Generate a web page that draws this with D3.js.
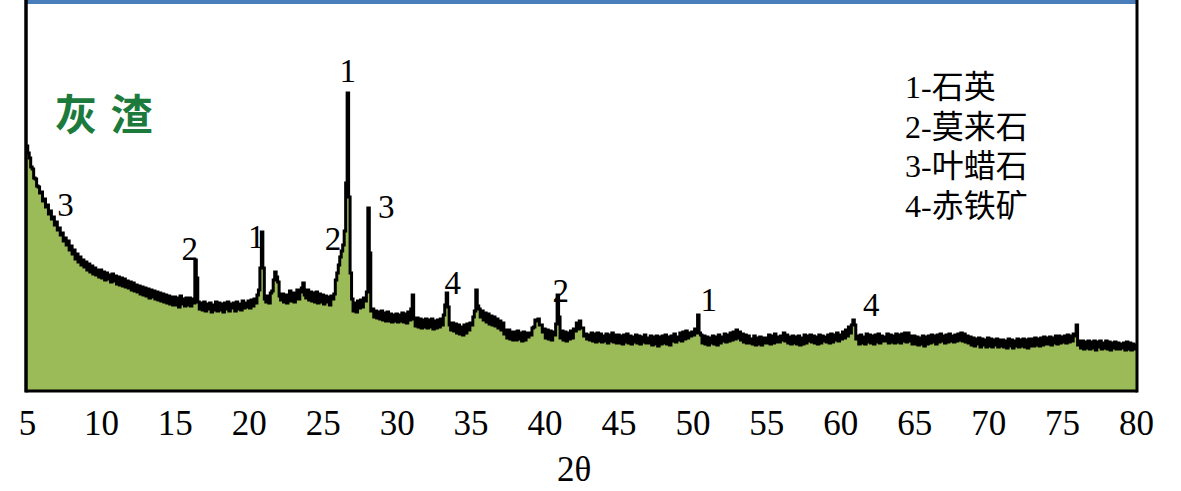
<!DOCTYPE html>
<html>
<head>
<meta charset="utf-8">
<script src="https://cdn.jsdelivr.net/npm/d3@7"></script>
<style>
  body { margin: 0; background: #fff; }
  svg { display: block; }
</style>
</head>
<body>
<svg id="chart" width="1181" height="491"></svg>
<script>
// XRD pattern of the ash slag (0.1 deg steps from 5 to 80)
const startAngle = 5;
const stepAngle = 0.1;
const intensity = [
  245, 238, 233, 224, 222, 213, 212, 205, 204, 198,
  199, 190, 192, 184, 186, 177, 180, 172, 174, 166,
  169, 161, 163, 156, 158, 150, 153, 146, 150, 141,
  145, 137, 141, 132, 137, 129, 134, 126, 131, 124,
  129, 121, 127, 119, 125, 117, 123, 116, 121, 114,
  121, 113, 119, 111, 118, 112, 116, 109, 117, 110,
  115, 107, 114, 106, 113, 105, 112, 104, 110, 103,
  109, 101, 108, 100, 106, 99, 105, 97, 104, 96,
  103, 95, 102, 93, 101, 94, 100, 92, 99, 91,
  98, 90, 97, 89, 96, 88, 95, 87, 94, 86,
  94, 86, 93, 84, 95, 87, 92, 85, 93, 86,
  93, 85, 92, 88, 131, 113, 89, 82, 88, 81,
  89, 80, 87, 82, 88, 79, 86, 81, 89, 80,
  88, 81, 87, 79, 88, 82, 89, 80, 87, 83,
  88, 80, 89, 82, 87, 81, 90, 83, 88, 84,
  90, 83, 91, 85, 92, 88, 96, 101, 123, 159,
  123, 92, 89, 95, 88, 98, 100, 111, 119, 114,
  109, 95, 91, 97, 89, 96, 88, 95, 100, 90,
  98, 89, 97, 101, 92, 99, 103, 108, 96, 93,
  101, 91, 99, 90, 98, 89, 99, 88, 97, 89,
  96, 87, 95, 89, 94, 86, 95, 92, 97, 111,
  118, 126, 134, 140, 146, 160, 208, 298, 194, 118,
  92, 80, 88, 79, 90, 83, 91, 84, 93, 90,
  99, 183, 138, 80, 82, 74, 80, 73, 79, 72,
  80, 71, 78, 70, 79, 70, 77, 69, 76, 70,
  77, 69, 76, 70, 78, 69, 77, 68, 79, 71,
  82, 96, 72, 65, 73, 64, 72, 63, 71, 64,
  72, 63, 71, 64, 72, 62, 70, 63, 71, 64,
  72, 66, 76, 86, 98, 84, 66, 61, 68, 60,
  67, 58, 66, 57, 64, 56, 66, 58, 67, 61,
  68, 66, 74, 80, 101, 85, 82, 74, 80, 71,
  78, 69, 77, 67, 75, 66, 74, 65, 72, 63,
  70, 61, 68, 57, 61, 53, 61, 52, 59, 51,
  59, 51, 60, 52, 58, 50, 59, 51, 58, 54,
  58, 56, 63, 64, 71, 70, 72, 66, 66, 59,
  62, 53, 61, 52, 60, 51, 59, 56, 67, 96,
  74, 53, 60, 51, 59, 50, 58, 52, 60, 53,
  62, 60, 68, 62, 70, 63, 63, 55, 57, 52,
  56, 51, 58, 50, 57, 49, 58, 50, 57, 49,
  55, 50, 57, 48, 56, 50, 58, 49, 56, 48,
  56, 48, 55, 47, 56, 49, 57, 48, 55, 47,
  54, 49, 56, 48, 55, 47, 54, 49, 56, 48,
  53, 48, 55, 46, 54, 47, 55, 45, 54, 47,
  55, 48, 56, 47, 54, 46, 55, 50, 57, 49,
  54, 51, 58, 50, 59, 52, 60, 53, 58, 55,
  59, 56, 62, 58, 76, 58, 56, 48, 55, 47,
  54, 46, 53, 48, 55, 47, 54, 46, 56, 48,
  54, 50, 57, 49, 56, 50, 58, 51, 59, 52,
  61, 53, 59, 51, 57, 49, 56, 48, 55, 48,
  52, 47, 55, 46, 53, 47, 54, 46, 53, 48,
  53, 48, 56, 47, 55, 48, 57, 49, 54, 49,
  55, 51, 58, 50, 56, 48, 54, 47, 55, 48,
  54, 47, 55, 46, 53, 47, 56, 48, 55, 50,
  56, 49, 55, 48, 54, 47, 56, 48, 55, 50,
  54, 49, 56, 48, 57, 49, 56, 51, 58, 50,
  56, 52, 59, 53, 61, 55, 64, 58, 66, 71,
  66, 52, 55, 47, 56, 48, 54, 47, 57, 49,
  56, 48, 55, 47, 56, 49, 57, 48, 55, 50,
  54, 50, 57, 48, 56, 49, 55, 48, 57, 49,
  56, 48, 57, 50, 58, 49, 58, 50, 55, 47,
  55, 47, 54, 46, 53, 47, 55, 45, 54, 47,
  55, 48, 56, 49, 55, 47, 56, 49, 57, 50,
  55, 48, 56, 49, 57, 50, 55, 49, 56, 50,
  57, 51, 58, 50, 57, 49, 55, 48, 54, 46,
  53, 45, 52, 47, 53, 44, 52, 46, 51, 44,
  53, 45, 52, 44, 51, 46, 52, 44, 51, 45,
  51, 44, 50, 43, 52, 45, 51, 43, 50, 45,
  52, 44, 51, 45, 52, 44, 51, 43, 52, 45,
  52, 45, 53, 46, 52, 45, 53, 46, 54, 47,
  53, 47, 54, 46, 53, 48, 55, 47, 55, 48,
  54, 49, 55, 48, 56, 49, 55, 50, 57, 55,
  66, 46, 50, 43, 50, 42, 49, 43, 50, 42,
  49, 43, 50, 41, 49, 44, 50, 42, 48, 43,
  50, 42, 49, 41, 48, 43, 49, 42, 48, 42,
  47, 43, 48, 41, 49, 42, 48, 41, 47, 42,
  46
];

const xTicks = d3.range(5, 81, 5);
const xTitle = '2θ';
const sampleName = '灰 渣';

// phase markers above the peaks
const peakLabels  = ['3', '2', '1', '2', '1', '3', '4', '2', '1', '4'];
const peakAngles  = [7.6, 16.0, 20.5, 25.7, 26.7, 29.3, 33.8, 41.1, 51.1, 62.1];
const peakHeights = [175, 131, 143, 141, 309, 173, 97, 89, 80, 75];

const legendItems = ['1-石英', '2-莫来石', '3-叶蜡石', '4-赤铁矿'];

const svg = d3.select('#chart');
const width = 1181, height = 491;
const margin = { top: 0, right: 45, bottom: 100, left: 27 };

const points = intensity.map((v, i) => ({ angle: startAngle + i * stepAngle, value: v }));

const x = d3.scaleLinear()
  .domain([5, 80])
  .range([margin.left, width - margin.right]);

const y = d3.scaleLinear()
  .domain([0, height - margin.bottom])
  .range([height - margin.bottom, margin.top]);

const serif = '"Liberation Serif", "Times New Roman", "Noto Sans CJK SC", serif';

// filled pattern
const area = d3.area()
  .x(d => x(d.angle))
  .y0(y(0))
  .y1(d => y(d.value))
  .curve(d3.curveStep);

svg.append('path')
  .datum(points)
  .attr('fill', '#9bbb59')
  .attr('d', area);

const line = d3.line()
  .x(d => x(d.angle))
  .y(d => y(d.value))
  .curve(d3.curveStep);

svg.append('path')
  .datum(points)
  .attr('fill', 'none')
  .attr('stroke', '#000')
  .attr('stroke-width', 3)
  .attr('d', line);

// frame: blue top, black sides
const x0 = x.range()[0] - 1, x1 = x.range()[1] + 1;
const yb = y(0);
svg.append('line')
  .attr('x1', x0).attr('x2', x1)
  .attr('y1', 2).attr('y2', 2)
  .attr('stroke', '#4a7ebb').attr('stroke-width', 4);
svg.append('line')
  .attr('x1', x0).attr('x2', x0)
  .attr('y1', 0).attr('y2', yb + 1.5)
  .attr('stroke', '#000').attr('stroke-width', 3.5);
svg.append('line')
  .attr('x1', x1).attr('x2', x1)
  .attr('y1', 0).attr('y2', yb + 1.5)
  .attr('stroke', '#000').attr('stroke-width', 3);

// x axis
const xAxis = svg.append('g')
  .attr('transform', `translate(0,${yb})`)
  .call(d3.axisBottom(x).tickValues(xTicks).tickSize(0).tickPadding(19).tickFormat(d3.format('d')));
xAxis.select('.domain')
  .attr('stroke', '#000')
  .attr('stroke-width', 3)
  .attr('d', `M${x0},0H${x1}`);
xAxis.selectAll('text')
  .attr('font-family', serif)
  .attr('font-size', 35)
  .attr('fill', '#000');

svg.append('text')
  .attr('x', x(42))
  .attr('y', 481)
  .attr('text-anchor', 'middle')
  .attr('font-family', serif)
  .attr('font-size', 35)
  .text(xTitle);

// peak markers
svg.append('g')
  .selectAll('text')
  .data(peakLabels)
  .join('text')
  .attr('x', (d, i) => x(peakAngles[i]))
  .attr('y', (d, i) => y(peakHeights[i]))
  .attr('text-anchor', 'middle')
  .attr('font-family', serif)
  .attr('font-size', 33)
  .text(d => d);

// sample name
svg.append('text')
  .attr('x', 55)
  .attr('y', 130)
  .attr('font-family', '"Noto Sans CJK SC", sans-serif')
  .attr('font-weight', 700)
  .attr('font-size', 42)
  .attr('letter-spacing', 2)
  .attr('fill', '#1c7a3c')
  .text(sampleName);

// legend
svg.append('g')
  .selectAll('text')
  .data(legendItems)
  .join('text')
  .attr('x', 905)
  .attr('y', (d, i) => 98 + i * 39.5)
  .attr('font-family', serif)
  .attr('font-size', 32)
  .attr('fill', '#000')
  .text(d => d);
</script>
</body>
</html>
